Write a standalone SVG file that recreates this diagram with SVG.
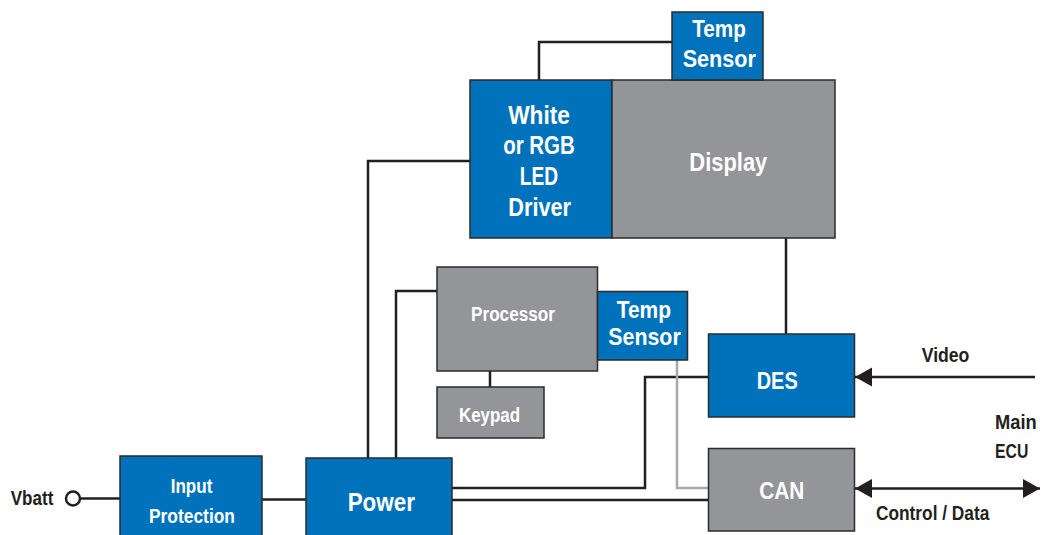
<svg xmlns="http://www.w3.org/2000/svg" width="1041" height="535" viewBox="0 0 1041 535">
<style>
.blue{fill:#0072bc;stroke:#2b2b2b;stroke-width:1.5}
.gray{fill:#939598;stroke:#2b2b2b;stroke-width:1.5}
.w{fill:#ffffff;font-family:"Liberation Sans",Arial,sans-serif;font-weight:bold;text-anchor:middle}
.k{fill:#231f20;font-family:"Liberation Sans",Arial,sans-serif;font-weight:bold}
.ln{fill:none;stroke:#231f20;stroke-width:2.5}
.lg{fill:none;stroke:#a7a9ac;stroke-width:2.5}
</style>
<defs>
<marker id="ah" markerUnits="userSpaceOnUse" markerWidth="18" markerHeight="20" refX="17" refY="9.5" orient="auto-start-reverse" viewBox="0 0 18 20">
<path d="M0,0 L17,9.5 L0,19 z" fill="#231f20"/>
</marker>
</defs>
<rect width="1041" height="535" fill="#ffffff"/>
<g id="connectors">
<path class="ln" d="M81,498.5 H120"/>
<path class="ln" d="M262,499.5 H306"/>
<path class="ln" d="M368,458 V161 H470"/>
<path class="ln" d="M396,458 V291 H437"/>
<path class="ln" d="M452,488 H645 V377 H708"/>
<path class="ln" d="M452,500 H708"/>
<path class="ln" d="M539,80 V42 H672"/>
<path class="ln" d="M786,238 V334"/>
<path class="ln" d="M490,371 V387"/>
<path class="lg" d="M677,360 V488 H708"/>
<path class="ln" d="M1035,377 H855" marker-end="url(#ah)"/>
<path class="ln" d="M855,488.5 H1040" marker-start="url(#ah)" marker-end="url(#ah)"/>
</g>
<g id="vbatt">
<circle cx="73" cy="498.5" r="7" fill="#ffffff" stroke="#231f20" stroke-width="2.5"/>
<text class="k" x="10.7" y="505" font-size="20" textLength="42.7" lengthAdjust="spacingAndGlyphs">Vbatt</text>
</g>
<g id="input-protection">
<rect class="blue" x="120" y="456" width="142" height="90"/>
<text class="w" x="191.5" y="492.7" font-size="20" textLength="41.7" lengthAdjust="spacingAndGlyphs">Input</text>
<text class="w" x="192" y="523.3" font-size="20" textLength="86" lengthAdjust="spacingAndGlyphs">Protection</text>
</g>
<g id="power">
<rect class="blue" x="306" y="458" width="146" height="90"/>
<text class="w" x="381.3" y="510.7" font-size="25" textLength="67.3" lengthAdjust="spacingAndGlyphs">Power</text>
</g>
<g id="led-driver">
<rect class="blue" x="470" y="80" width="142" height="158"/>
<text class="w" x="539" y="124" font-size="25" textLength="61.7" lengthAdjust="spacingAndGlyphs">White</text>
<text class="w" x="539" y="154.3" font-size="25" textLength="71.7" lengthAdjust="spacingAndGlyphs">or RGB</text>
<text class="w" x="539" y="185" font-size="25" textLength="38.3" lengthAdjust="spacingAndGlyphs">LED</text>
<text class="w" x="539.7" y="216" font-size="25" textLength="62.7" lengthAdjust="spacingAndGlyphs">Driver</text>
</g>
<g id="display">
<rect class="gray" x="612" y="80" width="223" height="158"/>
<text class="w" x="728.3" y="170.7" font-size="25" textLength="78" lengthAdjust="spacingAndGlyphs">Display</text>
</g>
<g id="temp-sensor-top">
<rect class="blue" x="672" y="12" width="91" height="68"/>
<text class="w" x="719" y="37.3" font-size="24" textLength="53.7" lengthAdjust="spacingAndGlyphs">Temp</text>
<text class="w" x="719.3" y="67.3" font-size="24" textLength="73.3" lengthAdjust="spacingAndGlyphs">Sensor</text>
</g>
<g id="processor">
<rect class="gray" x="437" y="267" width="160.5" height="104"/>
<text class="w" x="513" y="321" font-size="20" textLength="84" lengthAdjust="spacingAndGlyphs">Processor</text>
</g>
<g id="temp-sensor-proc">
<rect class="blue" x="597.5" y="291.5" width="90" height="68.5"/>
<text class="w" x="643.8" y="318.3" font-size="24" textLength="54.3" lengthAdjust="spacingAndGlyphs">Temp</text>
<text class="w" x="644.5" y="345" font-size="24" textLength="72.4" lengthAdjust="spacingAndGlyphs">Sensor</text>
</g>
<g id="keypad">
<rect class="gray" x="437" y="387" width="107" height="51"/>
<text class="w" x="489.5" y="421.7" font-size="20" textLength="61" lengthAdjust="spacingAndGlyphs">Keypad</text>
</g>
<g id="des">
<rect class="blue" x="708.5" y="334" width="146" height="83"/>
<text class="w" x="777.2" y="389.3" font-size="23" textLength="41" lengthAdjust="spacingAndGlyphs">DES</text>
</g>
<g id="can">
<rect class="gray" x="708.5" y="448.5" width="146" height="82.5"/>
<text class="w" x="781.8" y="499.3" font-size="23" textLength="45" lengthAdjust="spacingAndGlyphs">CAN</text>
</g>
<g id="labels">
<text class="k" x="921.7" y="361.7" font-size="20" textLength="47.7" lengthAdjust="spacingAndGlyphs">Video</text>
<text class="k" x="995" y="429.3" font-size="20" textLength="41.7" lengthAdjust="spacingAndGlyphs">Main</text>
<text class="k" x="995" y="458.3" font-size="20" textLength="33.3" lengthAdjust="spacingAndGlyphs">ECU</text>
<text class="k" x="876" y="519.5" font-size="20" textLength="113.3" lengthAdjust="spacingAndGlyphs">Control / Data</text>
</g>
</svg>
